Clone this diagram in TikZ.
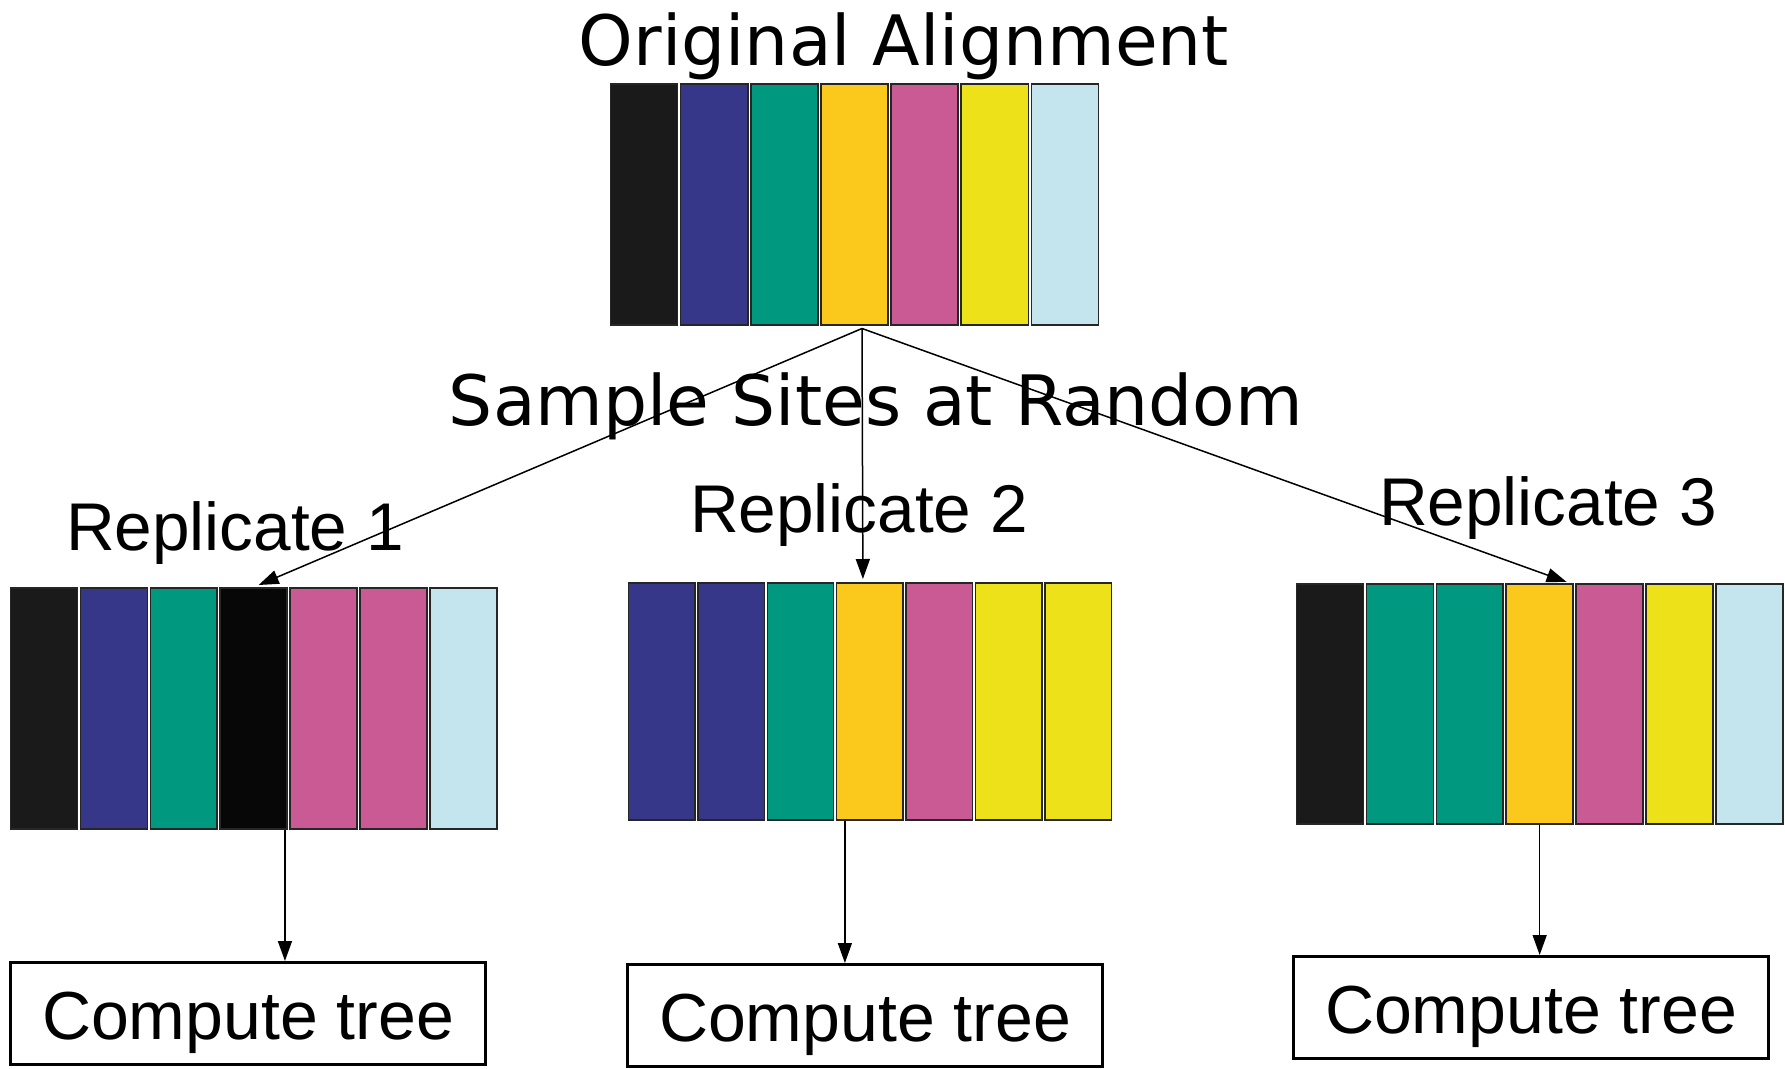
\documentclass[tikz,border=0pt]{standalone}
\usepackage{fontspec}
\setmainfont{Liberation Sans}
\newfontfamily\dejavu{DejaVu Sans}
\usetikzlibrary{arrows.meta,calc}
\definecolor{cblack}{HTML}{1A1A1A}
\definecolor{cdark}{HTML}{070707}
\definecolor{cnavy}{HTML}{37378A}
\definecolor{cteal}{HTML}{00987F}
\definecolor{corange}{HTML}{FBC91C}
\definecolor{cpink}{HTML}{C95A93}
\definecolor{cyellow}{HTML}{EDE11A}
\definecolor{clblue}{HTML}{C4E5ED}
\newcommand{\colrow}[6]{%
  \pgfmathsetmacro\cw{#3-3}%
  \foreach \c [count=\i] in {#6} {%
    \node[colbox, fill=\c, minimum width=\cw pt, minimum height=#5pt]
      (#1\i) at ({#2+(\i-0.5)*#3}, #4) {};
  }}
\begin{document}
\begin{tikzpicture}[x=1pt,y=-1pt,
  colbox/.style={draw=black!85, line width=1.5pt, inner sep=0pt, anchor=north},
  dv/.style={font=\dejavu\fontsize{69.5}{80}\selectfont, inner sep=0pt, anchor=base},
  lab/.style={font=\fontsize{67.5}{78}\selectfont, inner sep=0pt, anchor=base},
  treebox/.style={draw, line width=3pt, minimum width=475pt, minimum height=102pt,
    inner sep=0pt, text height=51pt, text depth=0pt,
    font=\fontsize{68}{78}\selectfont},
  arr/.style={-{Triangle[length=20pt,width=14pt]}, line width=1.5pt}]
\path[use as bounding box, fill=white] (0,0) rectangle (1785,1068);

% colour blocks
\colrow{o}{609}{70.14}{83}{241}{cblack,cnavy,cteal,corange,cpink,cyellow,clblue}
\colrow{ra}{9}{69.9}{587}{241}{cblack,cnavy,cteal,cdark,cpink,cpink,clblue}
\colrow{rb}{627}{69.4}{582}{237}{cnavy,cnavy,cteal,corange,cpink,cyellow,cyellow}
\colrow{rc}{1295}{69.9}{583}{240}{cblack,cteal,cteal,corange,cpink,cyellow,clblue}

% texts
\node[dv] (title) at (904,65) {Original Alignment};
\node[dv] (sample) at (876,425) {Sample Sites at Random};
\node[lab] (l1) at (235,550) {Replicate 1};
\node[lab] (l2) at (859,532) {Replicate 2};
\node[lab] (l3) at (1548,525) {Replicate 3};

% boxes
\node[treebox] (b1) at (248,1013.5) {Compute tree};
\node[treebox] (b2) at (865,1015.5) {Compute tree};
\node[treebox] (b3) at (1531,1007.5) {Compute tree};

% sampling arrows
\coordinate (src) at ($(o4.south)+(7.5,3)$);
\draw[arr] (src) -- ($(ra4.north)+(5,-2)$);
\draw[arr] (src) -- ($(rb4.north)+(-7,-3)$);
\draw[arr] (src) -- ($(rc4.north)+(27,-1)$);

% compute arrows
\coordinate (d1) at ($(ra4.south)+(31.3,0)$);
\coordinate (d2) at ($(rb4.south)+(-25,0)$);
\coordinate (d3) at ($(rc4.south)+(0,0)$);
\draw[arr] (d1) -- (d1 |- b1.north);
\draw[arr] (d2) -- (d2 |- b2.north);
\draw[arr] (d3) -- (d3 |- b3.north);
\end{tikzpicture}
\end{document}
